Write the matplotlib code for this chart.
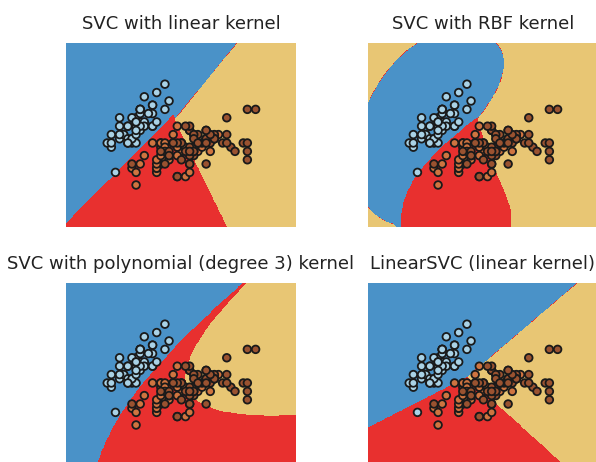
import numpy as np
import matplotlib
matplotlib.use("Agg")
import matplotlib.pyplot as plt

# iris: sepal length / sepal width per species
setosa_len = [5.1,4.9,4.7,4.6,5.0,5.4,4.6,5.0,4.4,4.9,5.4,4.8,4.8,4.3,5.8,5.7,5.4,5.1,5.7,5.1,
              5.4,5.1,4.6,5.1,4.8,5.0,5.0,5.2,5.2,4.7,4.8,5.4,5.2,5.5,4.9,5.0,5.5,4.9,4.4,5.1,
              5.0,4.5,4.4,5.0,5.1,4.8,5.1,4.6,5.3,5.0]
setosa_wid = [3.5,3.0,3.2,3.1,3.6,3.9,3.4,3.4,2.9,3.1,3.7,3.4,3.0,3.0,4.0,4.4,3.9,3.5,3.8,3.8,
              3.4,3.7,3.6,3.3,3.4,3.0,3.4,3.5,3.4,3.2,3.1,3.4,4.1,4.2,3.1,3.2,3.5,3.6,3.0,3.4,
              3.5,2.3,3.2,3.5,3.8,3.0,3.8,3.2,3.7,3.3]
versicolor_len = [7.0,6.4,6.9,5.5,6.5,5.7,6.3,4.9,6.6,5.2,5.0,5.9,6.0,6.1,5.6,6.7,5.6,5.8,6.2,5.6,
                  5.9,6.1,6.3,6.1,6.4,6.6,6.8,6.7,6.0,5.7,5.5,5.5,5.8,6.0,5.4,6.0,6.7,6.3,5.6,5.5,
                  5.5,6.1,5.8,5.0,5.6,5.7,5.7,6.2,5.1,5.7]
versicolor_wid = [3.2,3.2,3.1,2.3,2.8,2.8,3.3,2.4,2.9,2.7,2.0,3.0,2.2,2.9,2.9,3.1,3.0,2.7,2.2,2.5,
                  3.2,2.8,2.5,2.8,2.9,3.0,2.8,3.0,2.9,2.6,2.4,2.4,2.7,2.7,3.0,3.4,3.1,2.3,3.0,2.5,
                  2.6,3.0,2.6,2.3,2.7,3.0,2.9,2.9,2.5,2.8]
virginica_len = [6.3,5.8,7.1,6.3,6.5,7.6,4.9,7.3,6.7,7.2,6.5,6.4,6.8,5.7,5.8,6.4,6.5,7.7,7.7,6.0,
                 6.9,5.6,7.7,6.3,6.7,7.2,6.2,6.1,6.4,7.2,7.4,7.9,6.4,6.3,6.1,7.7,6.3,6.4,6.0,6.9,
                 6.7,6.9,5.8,6.8,6.7,6.7,6.3,6.5,6.2,5.9]
virginica_wid = [3.3,2.7,3.0,2.9,3.0,3.0,2.5,2.9,2.5,3.6,3.2,2.7,3.0,2.5,2.8,3.2,3.0,3.8,2.6,2.2,
                 3.2,2.8,2.8,2.7,3.3,3.2,2.8,3.0,2.8,3.0,2.8,3.8,2.8,2.8,2.6,3.0,3.4,3.1,3.0,3.1,
                 3.1,3.1,2.7,3.2,3.3,3.0,2.5,3.0,3.4,3.0]

titles = ["SVC with linear kernel", "SVC with RBF kernel",
          "SVC with polynomial (degree 3) kernel", "LinearSVC (linear kernel)"]
region_colors = ["#4a92c8", "#e8302f", "#e8c674"]
point_colors = ["#a9d2e6", "#cf7440", "#9a5230"]

X = np.column_stack([setosa_len + versicolor_len + virginica_len,
                     setosa_wid + versicolor_wid + virginica_wid])
y = np.repeat([0, 1, 2], 50)


def kernel(A, B, kind):
    if kind == "linear":
        return A @ B.T
    if kind == "rbf":
        d = ((A[:, None, :] - B[None, :, :]) ** 2).sum(-1)
        return np.exp(-0.7 * d)
    return (0.5 * (A @ B.T)) ** 3


#<----------- small libsvm-like SMO solver (C=1) ----------->
def smo(K, t, C=1.0, eps=1e-3, tau=1e-12):
    Q = np.outer(t, t) * K
    QD = np.diag(K).copy()
    a = np.zeros(len(t)); G = -np.ones(len(t))
    for _ in range(300000):
        up = ((t > 0) & (a < C)) | ((t < 0) & (a > 0))
        low = ((t > 0) & (a > 0)) | ((t < 0) & (a < C))
        v = -t * G
        vu = np.where(up, v, -np.inf)
        i = int(np.argmax(vu)); gmax = vu[i]
        if gmax - np.where(low, v, np.inf).min() < eps:
            break
        b = gmax - v
        quad = QD[i] + QD - 2 * K[i]
        quad[quad <= 0] = tau
        j = int(np.argmin(np.where(low & (b > 0), -b * b / quad, np.inf)))
        ai, aj = a[i], a[j]
        if t[i] != t[j]:
            q = QD[i] + QD[j] + 2 * Q[i, j]
            q = q if q > 0 else tau
            delta = (-G[i] - G[j]) / q
            diff = a[i] - a[j]
            a[i] += delta; a[j] += delta
            if diff > 0:
                if a[j] < 0: a[j] = 0; a[i] = diff
            else:
                if a[i] < 0: a[i] = 0; a[j] = -diff
            if diff > 0:
                if a[i] > C: a[i] = C; a[j] = C - diff
            else:
                if a[j] > C: a[j] = C; a[i] = C + diff
        else:
            q = QD[i] + QD[j] - 2 * Q[i, j]
            q = q if q > 0 else tau
            delta = (G[i] - G[j]) / q
            s = a[i] + a[j]
            a[i] -= delta; a[j] += delta
            if s > C:
                if a[i] > C: a[i] = C; a[j] = s - C
            else:
                if a[j] < 0: a[j] = 0; a[i] = s
            if s > C:
                if a[j] > C: a[j] = C; a[i] = s - C
            else:
                if a[i] < 0: a[i] = 0; a[j] = s
        G += Q[:, i] * (a[i] - ai) + Q[:, j] * (a[j] - aj)
    yG = t * G
    ub_m = a >= C; lb_m = a <= 0; free = ~ub_m & ~lb_m
    if free.any():
        rho = yG[free].mean()
    else:
        up_b = (ub_m & (t < 0)) | (lb_m & (t > 0))
        lo_b = (ub_m & (t > 0)) | (lb_m & (t < 0))
        rho = (yG[up_b].min() + yG[lo_b].max()) / 2
    return a * t, rho


def svc_predict(kind, P):
    votes = np.zeros((len(P), 3))
    for c1, c2 in [(0, 1), (0, 2), (1, 2)]:
        m = (y == c1) | (y == c2)
        Xs = X[m]; t = np.where(y[m] == c1, 1.0, -1.0)
        coef, rho = smo(kernel(Xs, Xs, kind), t)
        dec = kernel(P, Xs, kind) @ coef - rho
        votes[:, c1] += dec > 0
        votes[:, c2] += dec <= 0
    return np.argmax(votes, axis=1)


def linearsvc_predict(P, C=1.0):
    Xa = np.column_stack([X, np.ones(len(X))])
    Pa = np.column_stack([P, np.ones(len(P))])
    scores = []
    for c in range(3):
        t = np.where(y == c, 1.0, -1.0)
        w = np.zeros(3)
        for _ in range(200):
            m = t * (Xa @ w)
            act = m < 1
            grad = w - 2 * C * Xa[act].T @ (t[act] * (1 - m[act]))
            H = np.eye(3) + 2 * C * Xa[act].T @ Xa[act]
            step = np.linalg.solve(H, grad)
            w -= step
            if np.abs(step).max() < 1e-12:
                break
        scores.append(Pa @ w)
    return np.argmax(np.array(scores), axis=0)


h = 0.02
xx, yy = np.meshgrid(np.arange(X[:, 0].min() - 1, X[:, 0].max() + 1, h),
                     np.arange(X[:, 1].min() - 1, X[:, 1].max() + 1, h))
P = np.c_[xx.ravel(), yy.ravel()]
Zs = [svc_predict("linear", P), svc_predict("rbf", P), svc_predict("poly", P), linearsvc_predict(P)]

fig = plt.figure(figsize=(5.96, 4.62), dpi=100)
W, Hh = 596.0, 462.0
positions = [(66, 227), (368, 227), (66, 467), (368, 467)]
for (px, pb), title, Z in zip(positions, titles, Zs):
    ax = fig.add_axes([px / W, (Hh - pb) / Hh, 230 / W, 184 / Hh])
    ax.contourf(xx, yy, Z.reshape(xx.shape), levels=[-0.5, 0.5, 1.5, 2.5], colors=region_colors)
    ax.scatter(X[:, 0], X[:, 1], c=[point_colors[k] for k in y], s=30, edgecolors="#1a1a1a", linewidths=1.3)
    ax.set_xlim(xx.min(), xx.max()); ax.set_ylim(yy.min(), yy.max())
    ax.set_xticks([]); ax.set_yticks([])
    for s in ax.spines.values():
        s.set_visible(False)
    ax.set_title(title, fontsize=13, color="#222222", pad=10)
plt.savefig("out.png", dpi=100)
